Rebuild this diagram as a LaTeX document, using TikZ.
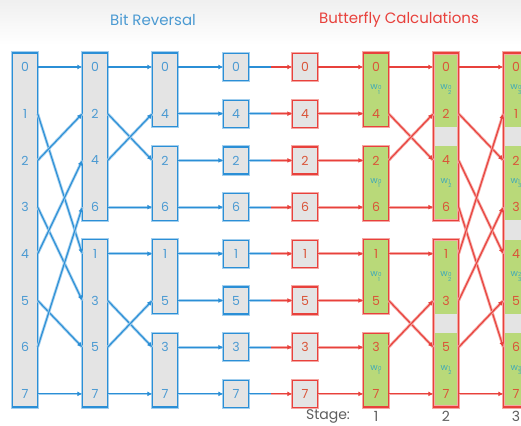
\documentclass[tikz,border=0pt]{standalone}
\usepackage{fontspec}
\setmainfont{Poppins}
\usetikzlibrary{arrows.meta}
\definecolor{bmain}{HTML}{2B8FD6}
\definecolor{blight}{HTML}{A3CFEE}
\definecolor{btext}{HTML}{4B9AD2}
\definecolor{rmain}{HTML}{E8413C}
\definecolor{rlight}{HTML}{F5A7A3}
\definecolor{rtext}{HTML}{DA5438}
\definecolor{boxgrey}{HTML}{E4E4E4}
\definecolor{gfill}{HTML}{B9D979}
\definecolor{wteal}{HTML}{3FA9B8}
\definecolor{stgrey}{HTML}{5E5E5E}
\newcommand\twf[2]{w\kern0.3pt\raisebox{-0.45ex}{\fontsize{5.5}{5}\selectfont\begin{tabular}{@{}l@{}}#2\\[-1.2pt]#1\end{tabular}}}
\tikzset{
  bbox/.style={draw=bmain, line width=1.2pt, fill=boxgrey, preaction={draw=blight, line width=3.2pt}},
  rbox/.style={draw=rmain, line width=1.2pt, fill=boxgrey, preaction={draw=rlight, line width=3.2pt}},
  rboxg/.style={draw=rmain, line width=1.2pt, fill=gfill, preaction={draw=rlight, line width=3.2pt}},
  rframe/.style={draw=rmain, line width=1.2pt, preaction={draw=rlight, line width=3.2pt}},
  digit/.style={minimum width=25pt, minimum height=12pt, inner sep=0pt, font=\fontsize{12.5}{12.5}\selectfont},
  wlab/.style={inner sep=0pt, text=wteal, font=\fontsize{9}{9}\selectfont},
  bline/.style={draw=bmain, line width=1.1pt, -{Latex[length=5pt,width=5pt]}, preaction={draw=blight, line width=2.8pt, -}},
  blinep/.style={draw=bmain, line width=1.1pt, preaction={draw=blight, line width=2.8pt}},
  rline/.style={draw=rmain, line width=1.1pt, -{Latex[length=5pt,width=5pt]}, preaction={draw=rlight, line width=2.8pt, -}},
  title/.style={font=\fontsize{15}{15}\selectfont},
  stg/.style={text=stgrey, font=\fontsize{14}{14}\selectfont}
}
\begin{document}
\begin{tikzpicture}[x=1pt,y=-1pt]
\useasboundingbox (0,0) rectangle (521,425);
\fill[white] (0,0) rectangle (521,425);
\shade[top color=black!6, bottom color=white] (0,0) rectangle (521,45);

% titles
\node[title, text=btext] (t1) at (153,20) {Bit Reversal};
\node[title, text=rmain] (t2) at (399,20) {Butterfly Calculations};

% ---- blue boxes
\draw[bbox] (12.5,53) rectangle (37.5,{67+46.7*7+13});
\foreach \a/\b in {0/3,4/7}
  \draw[bbox] (82.5,{67+46.7*\a-14}) rectangle (107.5,{67+46.7*\b+13});
\foreach \a/\b in {0/1,2/3,4/5,6/7}
  \draw[bbox] (152.5,{67+46.7*\a-14}) rectangle (177.5,{67+46.7*\b+13});
\foreach \a in {0,...,7}
  \draw[bbox] (223.5,{67+46.7*\a-13.5}) rectangle (248.5,{67+46.7*\a+13.5});

% ---- red boxes
\foreach \a in {0,...,7}
  \draw[rbox] (292.5,{67+46.7*\a-13.5}) rectangle (317.5,{67+46.7*\a+13.5});
\foreach \a/\b in {0/1,2/3,4/5,6/7}
  \draw[rboxg] (363.5,{67+46.7*\a-14}) rectangle (388.5,{67+46.7*\b+13});
% stage 2
\foreach \a/\b in {0/3,4/7}
  \fill[boxgrey] (433.5,{67+46.7*\a-14}) rectangle (458.5,{67+46.7*\b+13});
\foreach \a/\b in {0/1,2/3,4/5,6/7}
  \fill[gfill] (433.5,{67+46.7*\a-14}) rectangle (458.5,{67+46.7*\b+13});
\foreach \a/\b in {0/3,4/7}
  \draw[rframe] (433.5,{67+46.7*\a-14}) rectangle (458.5,{67+46.7*\b+13});
% stage 3
\fill[boxgrey] (503.5,53) rectangle (528.5,{67+46.7*7+13});
\foreach \a/\b in {0/1,2/3,4/5,6/7}
  \fill[gfill] (503.5,{67+46.7*\a-14}) rectangle (528.5,{67+46.7*\b+13});
\draw[rframe] (503.5,53) rectangle (528.5,{67+46.7*7+13});

% ---- digits
\foreach \col/\cx/\labs/\tc in {A/25/{0,1,2,3,4,5,6,7}/btext, B/95/{0,2,4,6,1,3,5,7}/btext,
    C/165/{0,4,2,6,1,5,3,7}/btext, D/236/{0,4,2,6,1,5,3,7}/btext,
    E/305/{0,4,2,6,1,5,3,7}/rtext, F/376/{0,4,2,6,1,5,3,7}/rtext,
    G/446/{0,2,4,6,1,3,5,7}/rtext, H/516/{0,1,2,3,4,5,6,7}/rtext}{
  \foreach \lab [count=\r from 0] in \labs
    \node[digit, text=\tc] (\col\r) at (\cx,{67+46.7*\r}) {\lab};
}

% ---- twiddle labels
\foreach \a/\k in {0/0,2/0,4/0,6/0}
  \node[wlab] (wF\a) at (376,{67+46.7*(\a+0.5)}) {\twf{1}{\k}};
\foreach \a/\k in {0/0,2/1,4/0,6/1}
  \node[wlab] (wG\a) at (446,{67+46.7*(\a+0.5)}) {\twf{2}{\k}};
\foreach \a/\k in {0/0,2/1,4/2,6/3}
  \node[wlab] (wH\a) at (516,{67+46.7*(\a+0.5)}) {\twf{3}{\k}};

% ---- connectors
\foreach \s/\t in {0/0,1/4,2/1,3/5,4/2,5/6,6/3,7/7}
  \draw[bline] (A\s.east) -- (B\t.west);
\foreach \s/\t in {0/0,1/2,2/1,3/3,4/4,5/6,6/5,7/7}
  \draw[bline] (B\s.east) -- (C\t.west);
\foreach \r in {0,...,7}{
  \draw[bline] (C\r.east) -- (D\r.west);
  \coordinate (M\r) at (271,{67+46.7*\r});
  \draw[blinep] (D\r.east) -- (M\r);
  \draw[rline] (M\r) -- (E\r.west);
  \draw[rline] (E\r.east) -- (F\r.west);
}
\foreach \s/\t in {0/0,1/2,2/1,3/3,4/4,5/6,6/5,7/7}
  \draw[rline] (F\s.east) -- (G\t.west);
\foreach \s/\t in {0/0,1/2,2/4,3/6,4/1,5/3,6/5,7/7}
  \draw[rline] (G\s.east) -- (H\t.west);

% ---- stage labels
\node[stg] (stage) at (328,416) {Stage:};
\node[stg] (s1) at (376,416) {1};
\node[stg] (s2) at (446,416) {2};
\node[stg] (s3) at (516,416) {3};
\end{tikzpicture}
\end{document}
